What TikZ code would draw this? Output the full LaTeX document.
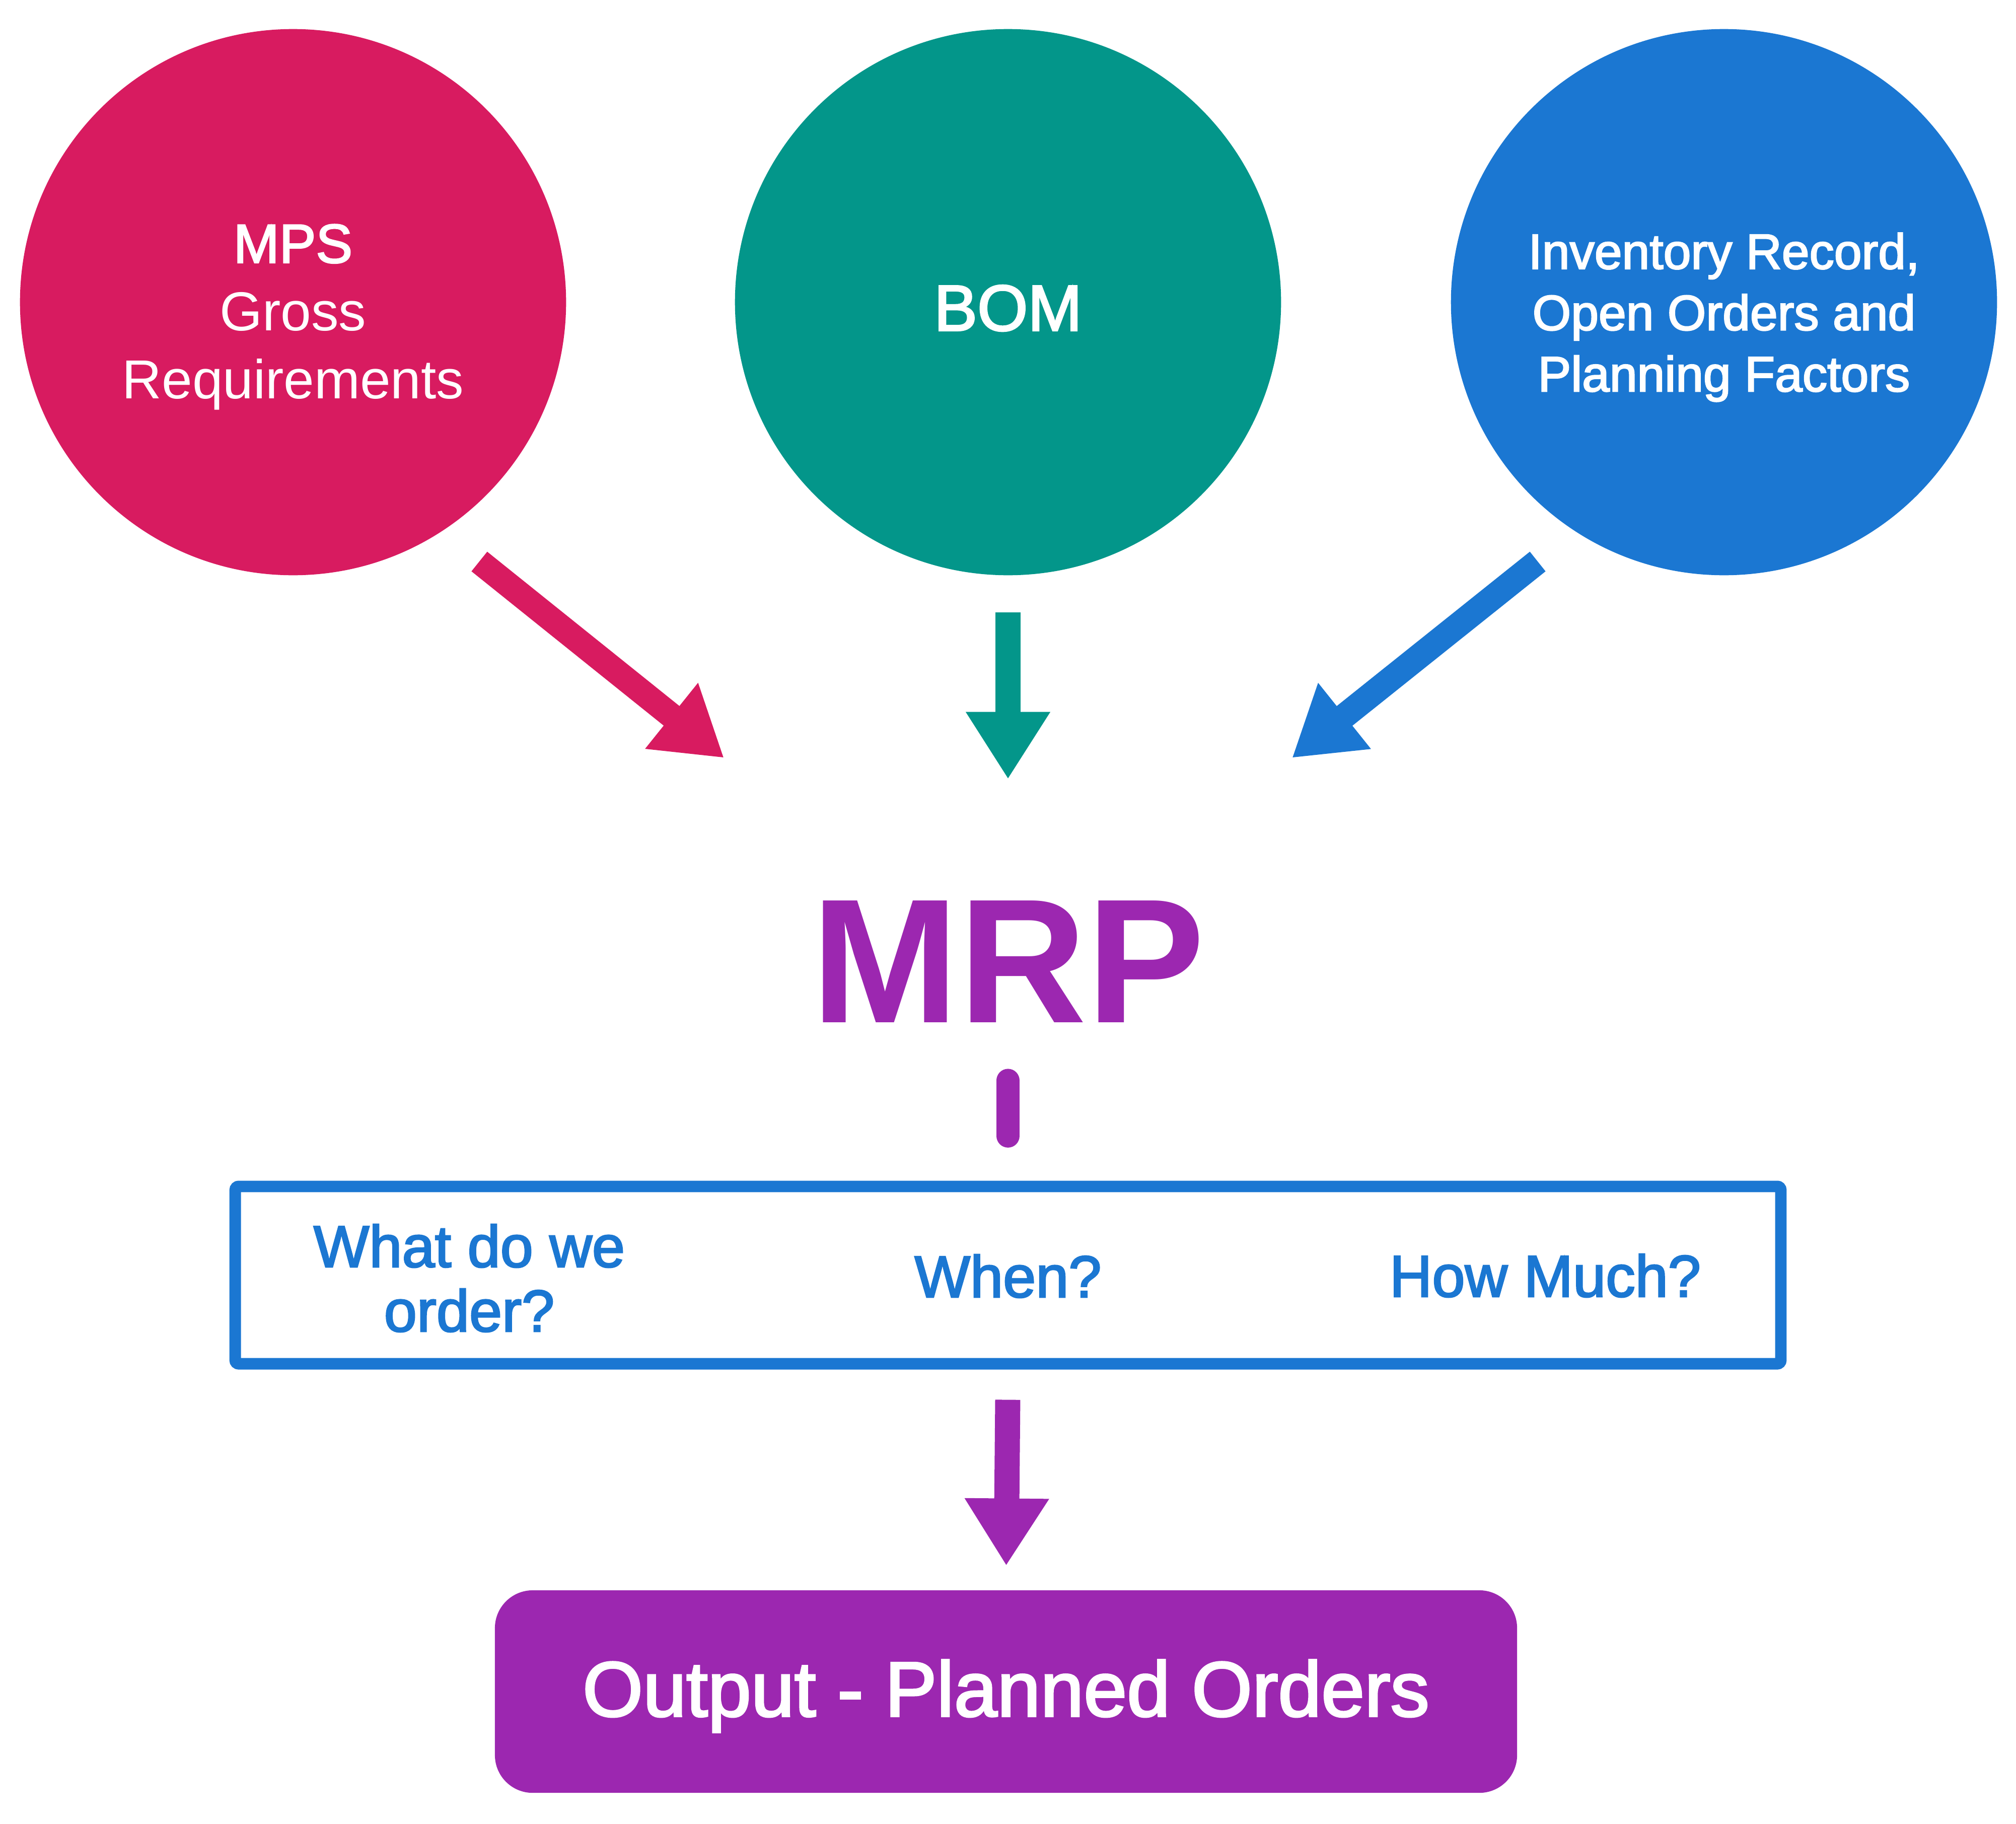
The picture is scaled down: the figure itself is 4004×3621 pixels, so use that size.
\documentclass[tikz,border=0pt]{standalone}
\usepackage{fontspec}
\setmainfont{Liberation Sans}
\newfontfamily\medfont[FakeBold=2.5]{Liberation Sans}
\usetikzlibrary{arrows.meta,positioning}
\definecolor{mpsred}{HTML}{D81B60}
\definecolor{bomteal}{HTML}{03968A}
\definecolor{invblue}{HTML}{1B77D2}
\definecolor{mrppurple}{HTML}{9C27B0}

\begin{document}
\begin{tikzpicture}[x=0.01cm,y=-0.01cm]
                \tikzstyle{every node}+=[inner sep=0pt]
                \tikzset{src/.style={circle,minimum size=10.84cm,text=white,align=center},
                    feed/.style={line width=14.2pt,-{Triangle[width=45pt,length=38pt]}},
                    ask/.style={text=invblue,align=center,font=\medfont\fontsize{33.3}{36.4}\selectfont}}
                \useasboundingbox (0,0) rectangle (4004,3621);
                % inputs
                \node [src,fill=mpsred] (mps) at (582,600) {};
                \node [src,fill=bomteal] (bom) at (2002,600) {};
                \node [src,fill=invblue] (inv) at (3424,600) {};
                \node [text=white,align=center,font=\fontsize{31}{38.4}\selectfont] (mpst) at (582,630) {{\medfont MPS}\\Gross\\Requirements};
                \node [text=white,font=\medfont\fontsize{36.7}{40}\selectfont] (bomt) at (2002,612) {BOM};
                \node [text=white,align=center,font=\medfont\fontsize{28}{34.6}\selectfont] (invt) at (3424,630) {Inventory Record,\\Open Orders and\\Planning Factors};
                \node [anchor=base,text=mrppurple,font=\bfseries\fontsize{100}{110}\selectfont] (mrp) at (2002,2030) {MRP};
                % questions
                \node [draw=invblue,line width=6.5pt,rounded corners=2pt,minimum width=30.68cm,minimum height=3.52cm] (qbox) at (2002,2532) {};
                \node [ask] (what) at (932,2538) {What do we\\order?};
                \node [ask] (when) at (2002,2534) {When?};
                \node [ask] (much) at (3069,2533) {How Much?};
                \node [fill=mrppurple,rounded corners=0.75cm,minimum width=20.29cm,minimum height=4.02cm] (out) at (1998,3359) {};
                \node [text=white,font=\medfont\fontsize{43.9}{50}\selectfont] (outt) at (1998,3368) {Output - Planned Orders};
                % arrows
                \coordinate (mpsT) at (952,1115);
                \coordinate (mpsH) at (1438,1505);
                \coordinate (invT) at (3054,1115);
                \coordinate (invH) at (2566,1505);
                \draw [feed,mpsred] (mpsT) -- (mpsH);
                \draw [feed,invblue] (invT) -- (invH);
                \draw [feed,bomteal,shorten <=0.73cm,shorten >=2.4cm] (bom.south) -- (mrp.north);
                \draw [mrppurple,line width=13.3pt,line cap=round,shorten <=1.15cm,shorten >=0.89cm] (mrp.south) -- (qbox.north);
                \draw [feed,mrppurple,shorten <=0.6cm,shorten >=0.48cm] (qbox.south) -- (out.north);
\end{tikzpicture}
\end{document}
